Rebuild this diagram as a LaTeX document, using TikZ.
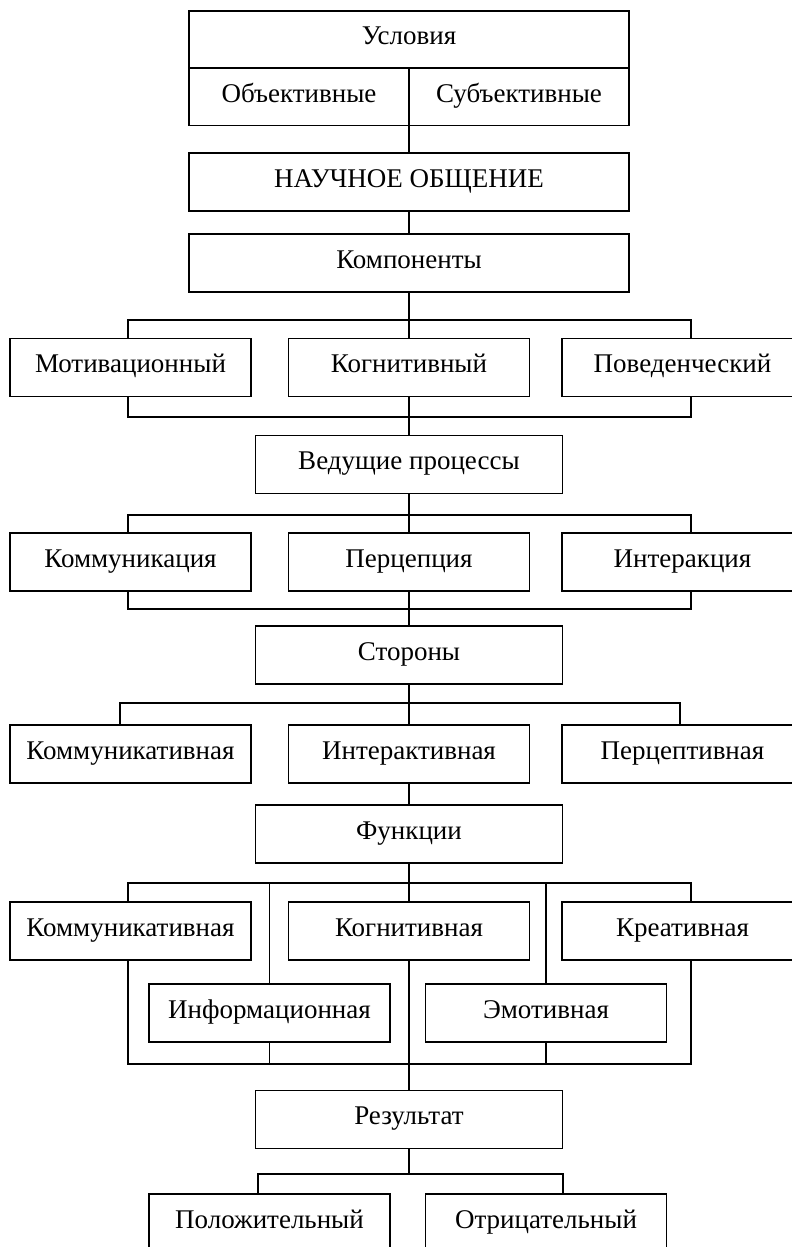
\documentclass[tikz,border=0pt]{standalone}
\usepackage{fontspec}
\setmainfont{Liberation Serif}
\usepackage{tikz}

\begin{document}
\begin{tikzpicture}[x=0.5pt,y=-0.5pt,thick,
  main node/.style={rectangle,draw,fill=white,inner sep=0pt,minimum width=120.5pt,minimum height=29pt,
    text height=1.5ex,text depth=.4ex,font=\fontsize{13.5}{16}\selectfont},
  wide node/.style={main node,minimum width=220pt},
  half node/.style={main node,minimum width=110pt},
  mid node/.style={main node,minimum width=153.5pt}]

  \useasboundingbox (0,0) rectangle (792,1247);
  \clip (0,0) rectangle (792,1247);

  \node[wide node,minimum height=28.5pt] (1) at (409,39.5) {Условия};
  \node[half node,minimum height=28.5pt] (2) at (299,97) {Объективные};
  \node[half node,minimum height=28.5pt] (3) at (519,97) {Субъективные};
  \node[wide node] (4) at (409,182) {НАУЧНОЕ ОБЩЕНИЕ};
  \node[wide node] (5) at (409,263) {Компоненты};

  \node[main node] (6) at (130.5,367.5) {Мотивационный};
  \node[main node] (7) at (409,367.5) {Когнитивный};
  \node[main node] (8) at (682.5,367.5) {Поведенческий};
  \node[mid node] (9) at (409,464.5) {Ведущие процессы};

  \node[main node] (10) at (130.5,562) {Коммуникация};
  \node[main node] (11) at (409,562) {Перцепция};
  \node[main node] (12) at (682.5,562) {Интеракция};
  \node[mid node] (13) at (409,655) {Стороны};

  \node[main node] (14) at (130.5,754) {Коммуникативная};
  \node[main node] (15) at (409,754) {Интерактивная};
  \node[main node] (16) at (682.5,754) {Перцептивная};
  \node[mid node] (17) at (409,834) {Функции};

  \node[main node] (18) at (130.5,931) {Коммуникативная};
  \node[main node] (19) at (409,931) {Когнитивная};
  \node[main node] (20) at (682.5,931) {Креативная};
  \node[main node] (21) at (269.5,1013) {Информационная};
  \node[main node] (22) at (546,1013) {Эмотивная};
  \node[mid node] (23) at (409,1119.5) {Результат};

  \node[main node] (24) at (269.5,1223) {Положительный};
  \node[main node] (25) at (546,1223) {Отрицательный};

  % bus corners
  \coordinate (a1) at (128,320);  \coordinate (a2) at (691,320);
  \coordinate (a3) at (128,417);  \coordinate (a4) at (691,417);
  \coordinate (b1) at (128,515);  \coordinate (b2) at (691,515);
  \coordinate (b3) at (128,609);  \coordinate (b4) at (691,609);
  \coordinate (c1) at (120,703);  \coordinate (c2) at (680,703);
  \coordinate (d1) at (128,883);  \coordinate (d2) at (691,883);
  \coordinate (d3) at (128,1064); \coordinate (d4) at (691,1064);
  \coordinate (e1) at (258,1174); \coordinate (e2) at (563,1174);

  \draw (4.north |- 2.south) -- (4.north);
  \draw (4.south) -- (5.north);

  \draw (5.south) -- (7.north);
  \draw (a1 |- 6.north) -- (a1) -- (a2) -- (a2 |- 8.north);
  \draw (a3 |- 6.south) -- (a3) -- (a4) -- (a4 |- 8.south);
  \draw (7.south) -- (9.north);

  \draw (9.south) -- (11.north);
  \draw (b1 |- 10.north) -- (b1) -- (b2) -- (b2 |- 12.north);
  \draw (b3 |- 10.south) -- (b3) -- (b4) -- (b4 |- 12.south);
  \draw (11.south) -- (13.north);

  \draw (13.south) -- (15.north);
  \draw (c1 |- 14.north) -- (c1) -- (c2) -- (c2 |- 16.north);
  \draw (15.south) -- (17.north);

  \draw (17.south) -- (19.north);
  \draw (d1 |- 18.north) -- (d1) -- (d2) -- (d2 |- 20.north);
  \draw (21.north) -- (21.north |- d1);
  \draw (22.north) -- (22.north |- d1);
  \draw (d3 |- 18.south) -- (d3) -- (d4) -- (d4 |- 20.south);
  \draw (21.south) -- (21.south |- d3);
  \draw (22.south) -- (22.south |- d3);
  \draw (19.south) -- (23.north);

  \draw (23.south) -- (23.south |- e1);
  \draw (e1 |- 24.north) -- (e1) -- (e2) -- (e2 |- 25.north);

\end{tikzpicture}
\end{document}
